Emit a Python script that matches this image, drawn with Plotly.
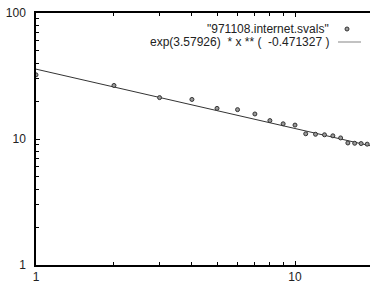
import plotly.graph_objects as go
import math

# data
x_vals = [1, 2, 3, 4, 5, 6, 7, 8, 9, 10, 11, 12, 13, 14, 15, 16, 17, 18, 19]
y_vals = [32.3, 26.6, 21.3, 20.6, 17.5, 17.1, 15.8, 14.0, 13.2, 12.9,
          11.0, 10.9, 10.8, 10.6, 10.2, 9.3, 9.25, 9.2, 9.1]
fit_a = 3.57926
fit_b = -0.471327
fit_x = [1, 20]
series_label = '"971108.internet.svals"'
fit_label = "exp(3.57926)\u00a0\u00a0* x ** (\u00a0\u00a0-0.471327 )"

fit_y = [math.exp(fit_a) * xx ** fit_b for xx in fit_x]

W, H = 370, 283
ml, mr, mt, mb = 36, 0, 13, 18
pw = W - ml - mr
ph = H - mt - mb
decade_px = 259.0

fig = go.Figure()
fig.add_trace(go.Scatter(x=fit_x, y=fit_y, mode="lines",
                         line=dict(color="#333333", width=1), showlegend=False,
                         hoverinfo="skip"))
fig.add_trace(go.Scatter(x=x_vals, y=y_vals, mode="markers",
                         marker=dict(symbol="circle", size=4, color="#999999",
                                     line=dict(color="#333333", width=1)),
                         showlegend=False))

font = dict(family="Liberation Sans, Arial, sans-serif", size=12, color="#222222")

fig.update_layout(
    template="none",
    width=W, height=H,
    margin=dict(l=ml, r=mr, t=mt, b=mb, pad=0),
    paper_bgcolor="white", plot_bgcolor="white",
    font=font,
    showlegend=False,
    xaxis=dict(type="log", range=[0, pw / decade_px], automargin=False,
               showgrid=False, zeroline=False,
               showline=True, linecolor="black", linewidth=1.5, mirror="ticks",
               ticks="inside", ticklen=4, tickwidth=1, tickcolor="black",
               tickvals=[1, 10], ticktext=["1", "10"],
               minor=dict(ticks="inside", ticklen=3, tickwidth=1, tickcolor="black",
                          tickvals=[2, 3, 4, 5, 6, 7, 8, 9, 20], showgrid=False),
               tickfont=font, ticklabelstandoff=0),
    yaxis=dict(type="log", range=[0, 2], automargin=False,
               showgrid=False, zeroline=False,
               showline=True, linecolor="black", linewidth=1.5, mirror=False,
               ticks="inside", ticklen=4, tickwidth=1, tickcolor="black",
               tickvals=[1, 10, 100], ticktext=["1", "10", "100"],
               minor=dict(ticks="inside", ticklen=3, tickwidth=1, tickcolor="black",
                          tickvals=[2, 3, 4, 5, 6, 7, 8, 9, 20, 30, 40, 50, 60, 70, 80, 90],
                          showgrid=False),
               tickfont=font, ticklabelstandoff=6),
)

def px_x(p):
    return (p - ml) / pw

def px_y(p):
    return (H - mb - p) / ph

fig.add_annotation(x=px_x(331), y=px_y(29), xref="paper", yref="paper",
                   text=series_label, showarrow=False, xanchor="right",
                   yanchor="middle", font=font)
fig.add_annotation(x=px_x(331), y=px_y(42), xref="paper", yref="paper",
                   text=fit_label, showarrow=False, xanchor="right",
                   yanchor="middle", font=font)

# legend samples
fig.add_shape(type="circle", xref="paper", yref="paper",
              xsizemode="pixel", ysizemode="pixel",
              xanchor=px_x(347), yanchor=px_y(29),
              x0=-2, x1=2, y0=-2, y1=2,
              fillcolor="#999999", line=dict(color="#333333", width=1))
fig.add_shape(type="line", xref="paper", yref="paper",
              x0=px_x(338), x1=px_x(361), y0=px_y(42), y1=px_y(42),
              line=dict(color="#999999", width=1.2))

fig.write_html("out.html", config={"displayModeBar": False},
               post_script="document.body.style.margin='0';document.body.style.overflow='hidden';")
